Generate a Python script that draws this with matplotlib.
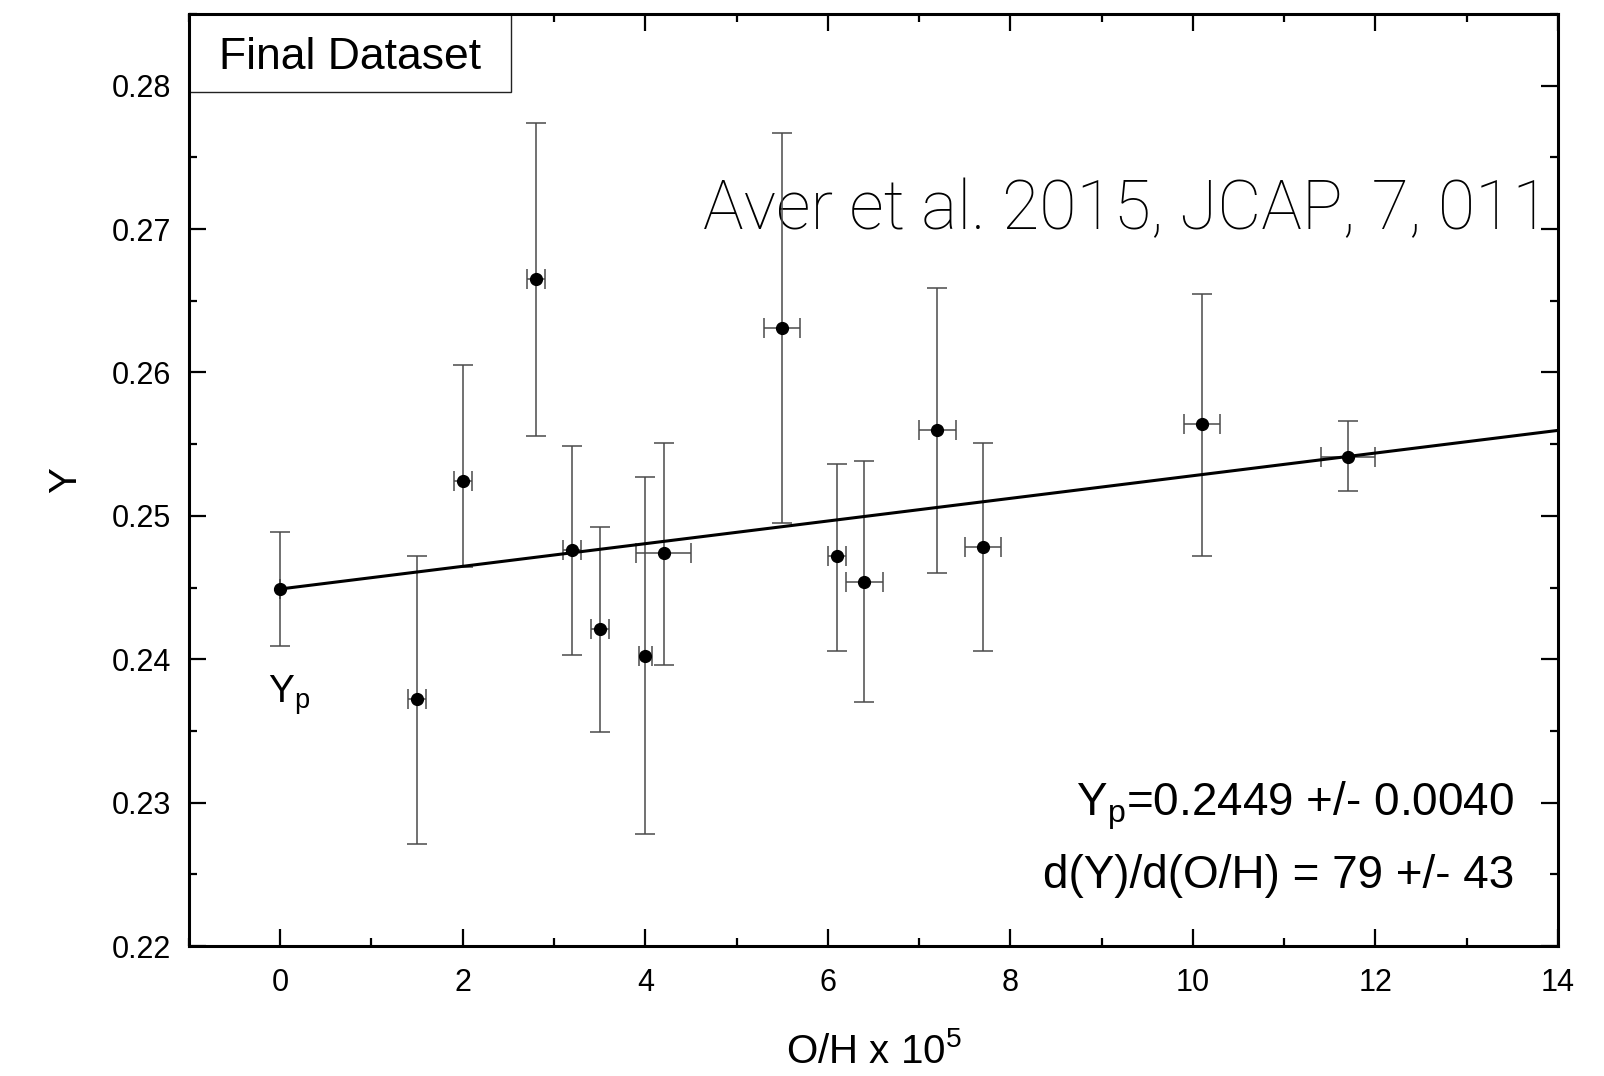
import numpy as np
import matplotlib
matplotlib.use("Agg")
import matplotlib.pyplot as plt
from matplotlib.patches import Rectangle

plt.rcParams['font.family'] = ['Liberation Sans', 'DejaVu Sans']
plt.rcParams['mathtext.fontset'] = 'custom'
plt.rcParams['mathtext.rm'] = 'Liberation Sans'
plt.rcParams['mathtext.it'] = 'Liberation Sans'

# data: O/H x 10^5 and helium mass fraction Y
oh = [0.0, 1.5, 2.0, 2.8, 3.2, 3.5, 4.0, 4.2, 5.5, 6.1, 6.4, 7.2, 7.7, 10.1, 11.7]
oh_err = [0.0, 0.1, 0.1, 0.1, 0.1, 0.1, 0.07, 0.3, 0.2, 0.1, 0.2, 0.2, 0.2, 0.2, 0.3]
y = [0.2449, 0.2372, 0.2524, 0.2665, 0.2476, 0.2421, 0.2402, 0.2474, 0.2631,
     0.2472, 0.2454, 0.2560, 0.2478, 0.2564, 0.2541]
y_err_lo = [0.0040, 0.0101, 0.0060, 0.0109, 0.0073, 0.0072, 0.0124, 0.0078, 0.0136,
            0.0066, 0.0084, 0.0100, 0.0072, 0.0092, 0.0024]
y_err_hi = [0.0040, 0.0100, 0.0081, 0.0109, 0.0073, 0.0071, 0.0125, 0.0077, 0.0136,
            0.0064, 0.0084, 0.0099, 0.0073, 0.0091, 0.0025]

# fit
yp = 0.2449
slope = 79e-5   # per unit of O/H x 10^5
fit_x = [0, 14]

fig = plt.figure(figsize=(16.04, 10.76), dpi=100)
ax = fig.add_axes([0.1178, 0.1208, 0.8535, 0.8662])

ax.errorbar(oh, y, yerr=[y_err_lo, y_err_hi], xerr=oh_err, fmt='none',
            ecolor='#4a4a4a', elinewidth=1.1, capsize=7, capthick=1.1, zorder=2)
ax.plot(fit_x, [yp + slope * v for v in fit_x], color='black', lw=2.2, zorder=3)
ax.plot(oh, y, 'o', color='black', markersize=8.5, zorder=4)

ax.set_xlim(-1, 14)
ax.set_ylim(0.22, 0.285)
ax.set_xticks(np.arange(0, 15, 2))
ax.set_xticks(np.arange(-1, 15, 1), minor=True)
ax.set_yticks(np.arange(0.22, 0.2801, 0.01))
ax.set_yticks(np.arange(0.22, 0.2851, 0.005), minor=True)
ax.yaxis.set_major_formatter(matplotlib.ticker.FormatStrFormatter('%.2f'))
ax.tick_params(which='both', direction='in', top=True, right=True, width=1.6,
               labelsize=22)
ax.tick_params(which='major', length=12)
ax.tick_params(axis='x', which='major', pad=16)
ax.tick_params(axis='y', which='major', pad=13)
ax.tick_params(which='minor', length=6)
for s in ax.spines.values():
    s.set_linewidth(2.2)
    s.set_zorder(6)

ax.set_xlabel('O/H x 10$^{5}$', fontsize=29, labelpad=24)
ax.set_ylabel('Y', fontsize=28, labelpad=20)

ax.add_patch(Rectangle((0, 0.9163), 0.2352, 0.0837, transform=ax.transAxes,
                       fc='white', ec='#222222', lw=1.0, zorder=5, clip_on=False))
ax.text(0.118, 0.9405, 'Final Dataset', transform=ax.transAxes, fontsize=32,
        ha='center', va='baseline', zorder=6)
ax.text(0.994, 0.7695, 'Aver et al. 2015, JCAP, 7, 011', transform=ax.transAxes,
        fontsize=49, ha='right', va='baseline', family=['Roboto', 'DejaVu Sans'],
        fontweight='light', zorder=1)
ax.text(-0.13, 0.2370, r'Y$_{\mathregular{p}}$', fontsize=28, va='baseline')
ax.text(0.968, 0.1405, r'Y$_{\mathregular{p}}$=0.2449 +/- 0.0040', transform=ax.transAxes,
        fontsize=33, ha='right', va='baseline')
ax.text(0.968, 0.0626, 'd(Y)/d(O/H) = 79 +/- 43', transform=ax.transAxes,
        fontsize=33, ha='right', va='baseline')

fig.savefig('out.png', dpi=100)
